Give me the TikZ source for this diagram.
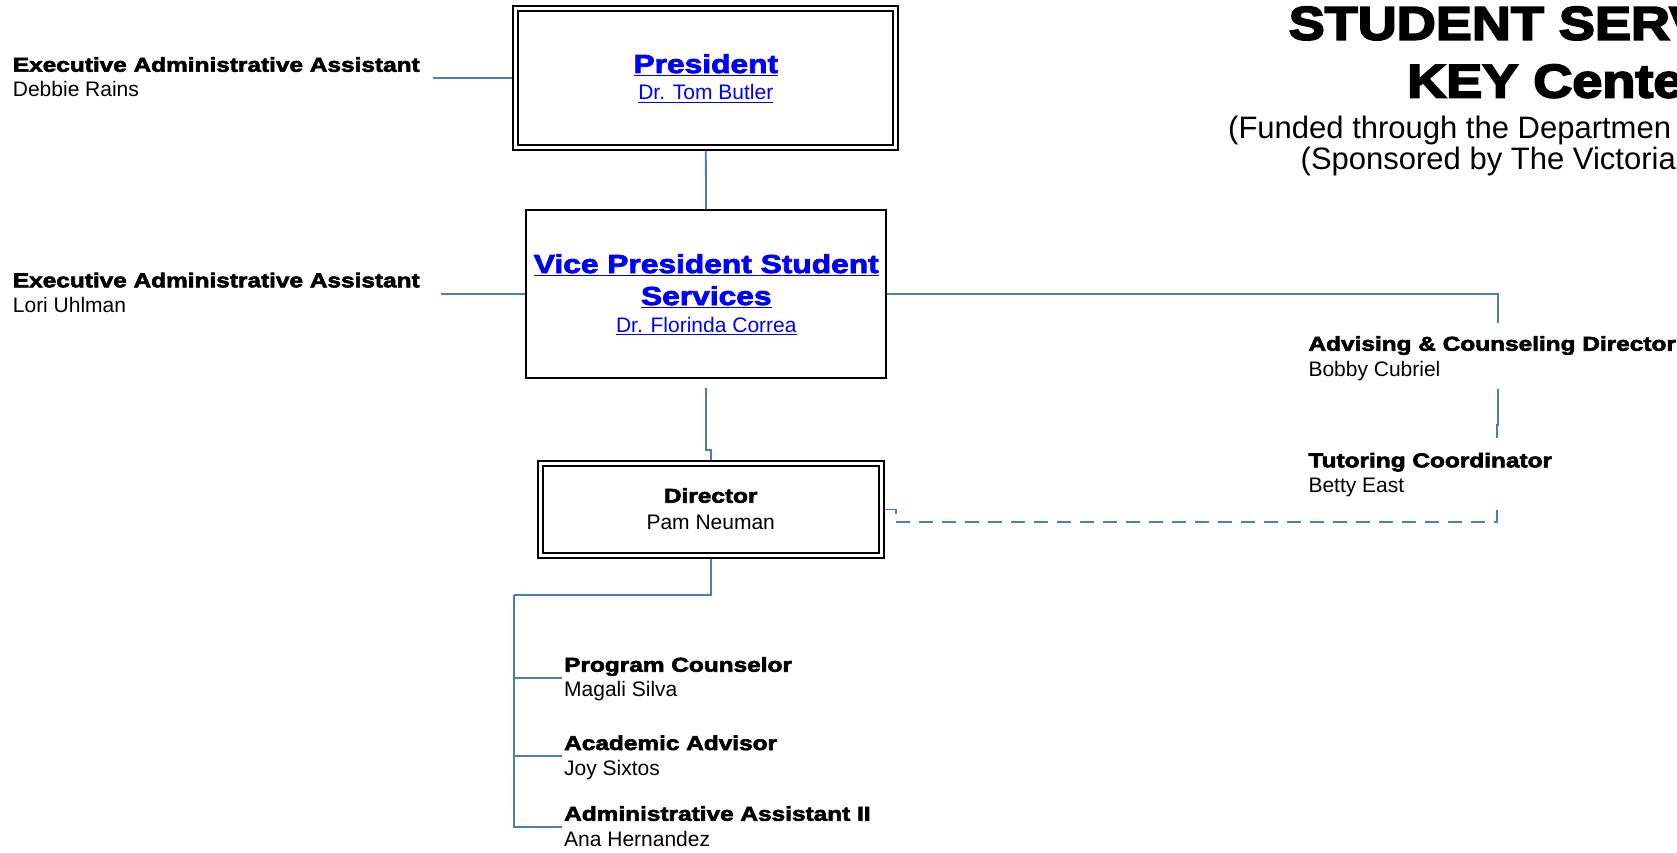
\documentclass[tikz,border=0pt]{standalone}
\usepackage{fontspec}
\setmainfont{Liberation Sans}
\newfontfamily\blk[FakeBold=3,FakeStretch=1.22]{Liberation Sans Bold}
\newfontfamily\blkt[FakeBold=4,FakeStretch=1.15]{Liberation Sans Bold}
\usetikzlibrary{backgrounds}
\definecolor{connc}{HTML}{4A7EBB}
\definecolor{lnk}{HTML}{0000FF}
\newcommand\ulk[2]{\setbox0\hbox{#2}\rlap{\rule[-3.4pt]{\wd0}{#1}}\box0}
\begin{document}
\begin{tikzpicture}[x=1pt,y=-1pt,
  box/.style={draw=black,line width=1.8pt,fill=white,inner sep=0pt},
  dbox/.style={box,double,double distance=3.2pt},
  slot/.style={draw=none,inner sep=0pt},
  txt/.style={anchor=base west,inner sep=0pt},
  ctxt/.style={anchor=base,inner sep=0pt},
  ttl/.style={font={\blk\fontsize{20pt}{24pt}\selectfont}},
  nm/.style={font={\fontsize{21pt}{25pt}\selectfont}},
  big/.style={font={\blk\fontsize{26pt}{30pt}\selectfont},text=lnk},
  bignm/.style={font={\fontsize{21pt}{25pt}\selectfont},text=lnk},
  cline/.style={draw=connc,line width=1.8pt},
  dline/.style={cline,dash pattern=on 14pt off 9pt}]
\useasboundingbox (0,0) rectangle (1677,853);
\clip (0,0) rectangle (1677,853);

% title
\node[txt,font={\blkt\fontsize{47pt}{52pt}\selectfont}] (t1) at (1288.5,39.6) {STUDENT SERV};
\node[txt,font={\blkt\fontsize{47pt}{52pt}\selectfont}] (t2) at (1407,97.4) {KEY Cente};
\node[txt,font={\fontsize{31pt}{36pt}\selectfont}] (t3) at (1228,138.5) {(Funded through the Departmen};
\node[txt,font={\fontsize{31pt}{36pt}\selectfont}] (t4) at (1300.5,170) {(Sponsored by The Victoria};

% boxes
\node[dbox,minimum width=380pt,minimum height=139.6pt] (pres) at (705.8,78) {};
\node[box,minimum width=360pt,minimum height=168pt] (vp) at (706,294) {};
\node[dbox,minimum width=341.3pt,minimum height=91.5pt] (dir) at (710.8,509.4) {};

\node[ctxt,big] (prest) at (705.8,73) {\ulk{1.5pt}{President}};
\node[ctxt,bignm] (presn) at (705.8,100) {\ulk{1.1pt}{Dr. Tom Butler}};
\node[ctxt,big] (vpt1) at (706.3,273) {\ulk{1.5pt}{Vice President Student}};
\node[ctxt,big] (vpt2) at (706.3,305) {\ulk{1.5pt}{Services}};
\node[ctxt,bignm] (vpn) at (706.3,332) {\ulk{1.1pt}{Dr. Florinda Correa}};
\node[ctxt,ttl] (dirt) at (710.7,502.7) {Director};
\node[ctxt,nm] (dirn) at (710.7,529.3) {Pam Neuman};

% left assistants
\node[txt,ttl] (ea1t) at (12.7,71.7) {Executive Administrative Assistant};
\node[txt,nm] (ea1n) at (12.7,96.7) {Debbie Rains};
\node[txt,ttl] (ea2t) at (12.7,287.3) {Executive Administrative Assistant};
\node[txt,nm] (ea2n) at (12.7,312.7) {Lori Uhlman};
\coordinate (ea1) at (433,78.3);
\coordinate (ea2) at (441,294);

% right side
\node[slot,minimum width=20pt,minimum height=65.7pt] (adv) at (1497.7,356.2) {};
\node[slot,minimum width=20pt,minimum height=72pt] (tut) at (1496.7,474) {};
\node[txt,ttl] (advt) at (1308.3,350.7) {Advising \& Counseling Director};
\node[txt,nm] (advn) at (1308.3,376) {Bobby Cubriel};
\node[txt,ttl] (tutt) at (1308.3,467.3) {Tutoring Coordinator};
\node[txt,nm] (tutn) at (1308.3,492.3) {Betty East};
\coordinate (dcor) at (895,521.7);

% children
\coordinate (vcor) at (514,595);
\node[slot,anchor=west,minimum width=240pt,minimum height=50pt] (pc) at (562.3,677.7) {};
\node[slot,anchor=west,minimum width=240pt,minimum height=50pt] (aa) at (562.3,755.7) {};
\node[slot,anchor=west,minimum width=240pt,minimum height=50pt] (as) at (562.3,827.3) {};
\node[txt,ttl] (pct) at (564,671.7) {Program Counselor};
\node[txt,nm] (pcn) at (564,696.7) {Magali Silva};
\node[txt,ttl] (aat) at (564,750) {Academic Advisor};
\node[txt,nm] (aan) at (564,775) {Joy Sixtos};
\node[txt,ttl] (ast) at (564,820.7) {Administrative Assistant II};
\node[txt,nm] (asn) at (564,846.7) {Ana Hernandez};

\begin{scope}[on background layer]
\draw[cline] (ea1) -- (ea1 -| pres.west);
\draw[cline] (ea2) -- (vp.west);
\draw[cline] (pres.south) -- (vp.north);
\draw[cline] ([yshift=-9pt]vp.south) -- ++(0,62) -| (dir.north);
\draw[cline] (vp.east) -| (adv.north);
\draw[cline] (adv.south) -- ++(0,36) -| (tut.north);
\draw[dline] (tut.south) |- (dcor);
\draw[cline] (dir.east) -- ++(13.7,0) -- ++(0,4.5);
\draw[cline] (dir.south) |- (vcor);
\draw[cline] (vcor) |- (pc.west);
\draw[cline] (vcor) |- (aa.west);
\draw[cline] (vcor) |- (as.west);
\end{scope}
\end{tikzpicture}
\end{document}
